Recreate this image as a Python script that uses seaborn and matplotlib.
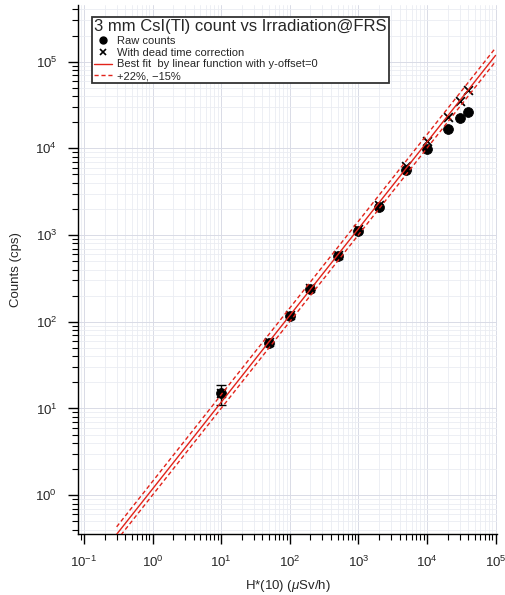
import numpy as np
import pandas as pd
import matplotlib
matplotlib.use('Agg')
import matplotlib.pyplot as plt
from matplotlib.ticker import LogLocator, NullFormatter, LogFormatterSciNotation
from matplotlib.lines import Line2D
import seaborn as sns

# dose rate H*(10) in uSv/h
dose_rate = [10, 50, 100, 200, 500, 1000, 2000, 5000, 10000, 20000, 30000, 40000]
# raw counts (cps)
raw_counts = [15, 57, 117, 240, 575, 1120, 2110, 5600, 9900, 16800, 22100, 26400]
raw_err = [3.9, 3, 2, 2, 3, 4, 5, 8, 10, 13, 15, 16]
# counts with dead time correction (cps)
dt_counts = [15, 58, 119, 245, 590, 1170, 2250, 6300, 12000, 23300, 35300, 47300]

fit_slope = 1.18
band_up = 1.22
band_down = 0.85
fit_range = [0.3, 1e5]

x_ticks = [1e-1, 1e0, 1e1, 1e2, 1e3, 1e4, 1e5]
y_ticks = [1e0, 1e1, 1e2, 1e3, 1e4, 1e5]

legend_title = "3 mm CsI(Tl) count vs Irradiation@FRS"
labels = ["Raw counts", "With dead time correction",
          "Best fit  by linear function with y-offset=0", "+22%, \u221215%"]

sns.set_theme(style="white")
plt.rcParams['font.family'] = ['Liberation Sans', 'DejaVu Sans']
plt.rcParams['mathtext.fontset'] = 'custom'
plt.rcParams['mathtext.rm'] = 'Liberation Sans'
plt.rcParams['mathtext.it'] = 'Liberation Sans:italic'

df_pts = pd.DataFrame({"H": dose_rate, "raw": raw_counts, "dt": dt_counts})
h_fit = np.array(fit_range)
df_fit = pd.DataFrame({"H": h_fit, "fit": fit_slope * h_fit,
                       "up": fit_slope * band_up * h_fit,
                       "down": fit_slope * band_down * h_fit})

fig = plt.figure(figsize=(5.05, 5.95), dpi=100)
ax = fig.add_axes([78 / 505, 61 / 595, 419 / 505, 529 / 595])

red = "#e2231a"
sns.lineplot(data=df_fit, x="H", y="fit", ax=ax, color=red, lw=1.0, zorder=4)
sns.lineplot(data=df_fit, x="H", y="up", ax=ax, color=red, lw=1.0, zorder=4,
             linestyle=(0, (3, 2)))
sns.lineplot(data=df_fit, x="H", y="down", ax=ax, color=red, lw=1.0, zorder=4,
             linestyle=(0, (3, 2)))

ax.errorbar(dose_rate[:1], raw_counts[:1], yerr=raw_err[:1], fmt='none',
            ecolor='black', elinewidth=1.0, capsize=3.5, capthick=1.0, zorder=2)
sns.scatterplot(data=df_pts, x="H", y="raw", ax=ax, marker='o', s=50,
                color='black', edgecolor='black', zorder=3)
sns.scatterplot(data=df_pts, x="H", y="dt", ax=ax, marker='x', s=40,
                color='black', linewidth=1.3, zorder=3)

ax.set_xscale('log')
ax.set_yscale('log')
ax.set_xlim(0.082, 1.05e5)
ax.set_ylim(0.357, 4.5e5)

ax.set_xticks(x_ticks)
ax.set_yticks(y_ticks)
ax.xaxis.set_major_formatter(LogFormatterSciNotation())
ax.yaxis.set_major_formatter(LogFormatterSciNotation())
ax.xaxis.set_minor_locator(LogLocator(base=10, subs=np.arange(2, 10), numticks=100))
ax.yaxis.set_minor_locator(LogLocator(base=10, subs=np.arange(2, 10), numticks=100))
ax.xaxis.set_minor_formatter(NullFormatter())
ax.yaxis.set_minor_formatter(NullFormatter())

ax.grid(which='major', color='#d9dbe6', lw=0.7)
ax.grid(which='minor', color='#eaecf2', lw=0.6)
ax.set_axisbelow(True)

for side in ['top', 'right']:
    ax.spines[side].set_visible(False)
for side in ['left', 'bottom']:
    ax.spines[side].set_color('black')
    ax.spines[side].set_linewidth(1.0)

ax.tick_params(which='major', direction='out', length=7, width=1.0,
               color='black', labelsize=9.5, bottom=True, left=True)
ax.tick_params(which='minor', direction='out', length=4, width=0.8,
               color='black', bottom=True, left=True)
ax.tick_params(axis='y', which='major', pad=8)
ax.tick_params(axis='x', which='major', pad=8)

ax.set_xlabel("H*(10) ($\\mu$Sv/h)", fontsize=9.5, labelpad=6)
ax.set_ylabel("Counts (cps)", fontsize=9.5, labelpad=10)

handles = [
    Line2D([], [], marker='o', color='black', ls='none', markersize=5),
    Line2D([], [], marker='x', color='black', ls='none', markersize=4, mew=1.2),
    Line2D([], [], color=red, lw=1.0),
    Line2D([], [], color=red, lw=1.0, ls=(0, (3, 2))),
]
leg = ax.legend(handles, labels, title=legend_title, loc='upper left',
                bbox_to_anchor=(0.033, 0.977), borderaxespad=0,
                fontsize=8, title_fontsize=12, handlelength=1.6,
                handletextpad=0.45, labelspacing=0.15, borderpad=0.2,
                fancybox=False, framealpha=1, edgecolor='#333333',
                alignment='left')
leg.get_frame().set_linewidth(1.3)
leg.set_zorder(10)

fig.savefig("out.png", dpi=100)
